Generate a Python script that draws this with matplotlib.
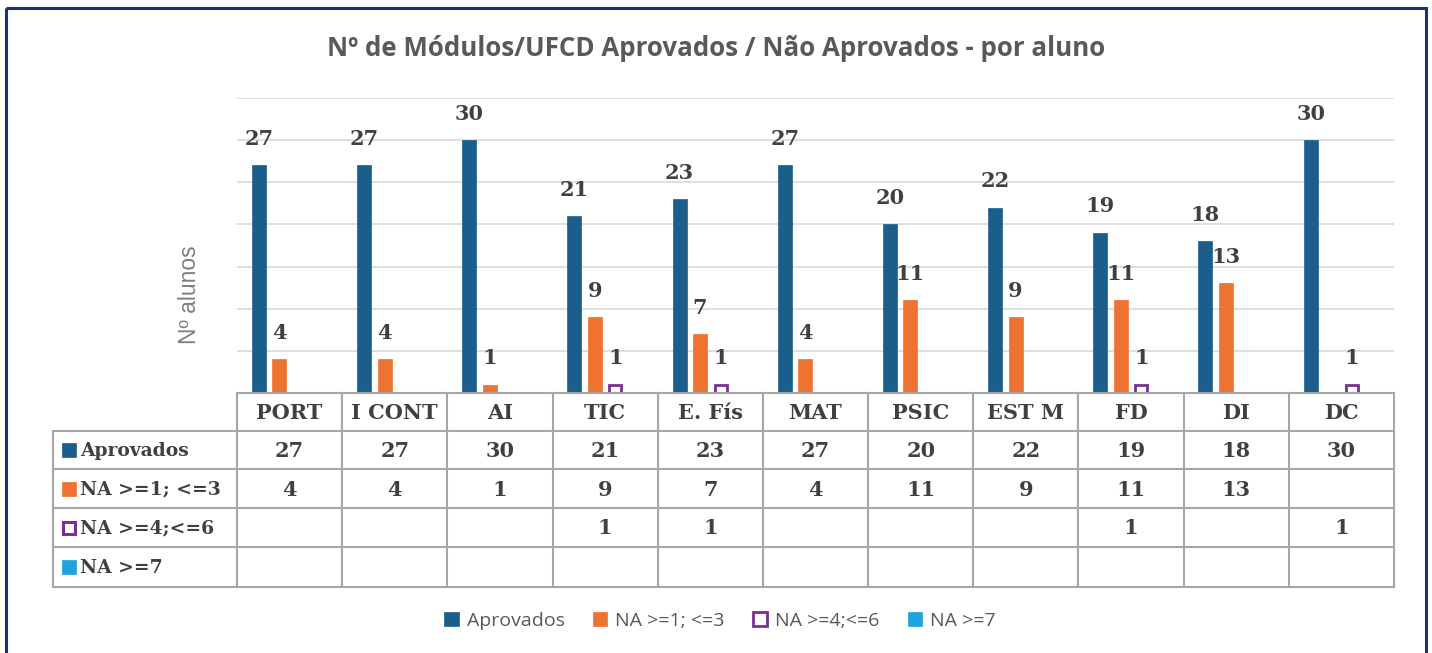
import matplotlib
matplotlib.use("Agg")
import matplotlib.pyplot as plt
import numpy as np
from matplotlib.patches import Rectangle, Patch

categories = ["PORT", "I CONT", "AI", "TIC", "E. Fís", "MAT", "PSIC", "EST M", "FD", "DI", "DC"]
series_names = ["Aprovados", "NA >=1; <=3", "NA >=4;<=6", "NA >=7"]
aprovados = [27, 27, 30, 21, 23, 27, 20, 22, 19, 18, 30]
na_1_3 = [4, 4, 1, 9, 7, 4, 11, 9, 11, 13, None]
na_4_6 = [None, None, None, 1, 1, None, None, None, 1, None, 1]
na_7 = [None] * 11

series = [aprovados, na_1_3, na_4_6, na_7]
face_colors = ["#1B5E8C", "#EE7330", "white", "#1FA3DD"]
edge_colors = ["#1B5E8C", "#EE7330", "#7A2E96", "#1FA3DD"]

W, H = 1432, 653
fig = plt.figure(figsize=(W / 100, H / 100), dpi=100)

def fx(px):
    return px / W

def fy(py):
    return 1 - py / H

# outer frame
frame = fig.add_axes([0, 0, 1, 1])
frame.set_xlim(0, W)
frame.set_ylim(H, 0)
frame.axis("off")
frame.add_patch(Rectangle((6, 8), 1420, 660, fill=False, edgecolor="#1C3170", lw=2.2,
                          clip_on=False))

# title
fig.text(fx(716), fy(48), "Nº de Módulos/UFCD Aprovados / Não Aprovados - por aluno",
         ha="center", va="center", fontsize=18.6, fontweight="bold", color="#595959",
         family="Open Sans")

# y label
fig.text(fx(189), fy(295), "Nº alunos", rotation=90, ha="center", va="center",
         fontsize=16.5, color="#808080", family="Liberation Sans")

# main axes
L, R, T, B = 237, 1394, 98, 393
ax = fig.add_axes([fx(L), fy(B), fx(R) - fx(L), fy(T) - fy(B)])
ax.set_xlim(-0.5, len(categories) - 0.5)
ax.set_ylim(0, 35)
ax.set_yticks(np.arange(0, 36, 5))
ax.set_xticks([])
ax.tick_params(left=False, labelleft=False)
ax.grid(axis="y", color="#D9D9D9", lw=1.2)
ax.set_axisbelow(True)
for s in ax.spines.values():
    s.set_visible(False)

slot = 0.195
bw = 0.133
x = np.arange(len(categories))
label_font = dict(family="DejaVu Serif", fontweight="bold", color="#404040", fontsize=15)
for k, vals in enumerate(series):
    off = (k - 1.5) * slot
    for i, v in enumerate(vals):
        if v is None:
            continue
        lw = 2.0 if k == 2 else 0.5
        ax.bar(x[i] + off, v, width=bw if k != 2 else bw - 0.02, color=face_colors[k],
               edgecolor=edge_colors[k], linewidth=lw, zorder=3)
        ax.annotate(str(v), (x[i] + off, v), xytext=(0, 19), textcoords="offset points",
                    ha="center", va="center", **label_font)

# data table
tab = fig.add_axes([0, 0, 1, 1], zorder=5)
tab.set_xlim(0, W)
tab.set_ylim(H, 0)
tab.axis("off")
line_c = "#A6A6A6"
row_y = [393, 431, 469, 508, 547, 587]
col_w = (R - L) / len(categories)
col_x = [L + i * col_w for i in range(len(categories) + 1)]
hdr_l = 53
tab.plot([L, R], [row_y[0], row_y[0]], color=line_c, lw=1.5)
for yy in row_y[1:]:
    tab.plot([hdr_l, R], [yy, yy], color=line_c, lw=1.5)
tab.plot([hdr_l, hdr_l], [row_y[1], row_y[-1]], color=line_c, lw=1.5)
for xx in col_x:
    tab.plot([xx, xx], [row_y[0], row_y[-1]], color=line_c, lw=1.5)

tfont = dict(family="DejaVu Serif", fontweight="bold", color="#404040", fontsize=15)
rfont = dict(tfont, fontsize=13.5)
for i, c in enumerate(categories):
    tab.text(col_x[i] + col_w / 2, (row_y[0] + row_y[1]) / 2 + 1, c, ha="center", va="center", **tfont)
for k, vals in enumerate(series):
    yc = (row_y[k + 1] + row_y[k + 2]) / 2
    if k == 2:
        tab.add_patch(Rectangle((63, yc - 6), 12, 12, facecolor="white",
                                edgecolor=edge_colors[k], lw=2.2))
    else:
        tab.add_patch(Rectangle((62, yc - 7), 14, 14, facecolor=face_colors[k],
                                edgecolor=edge_colors[k], lw=0.5))
    tab.text(80, yc + 1, series_names[k], ha="left", va="center", **rfont)
    for i, v in enumerate(vals):
        if v is None:
            continue
        tab.text(col_x[i] + col_w / 2, yc + 1, str(v), ha="center", va="center", **tfont)

# legend
handles = [Patch(facecolor=face_colors[k], edgecolor=edge_colors[k], lw=2 if k == 2 else 0.5)
           for k in range(4)]
fig.legend(handles, series_names, loc="center", bbox_to_anchor=(fx(720), fy(621)), ncol=4,
           frameon=False, handlelength=0.75, handleheight=0.75, handletextpad=0.4,
           columnspacing=1.45, prop=dict(family="Open Sans", size=14), labelcolor="#595959")

fig.savefig("out.png", dpi=100)
